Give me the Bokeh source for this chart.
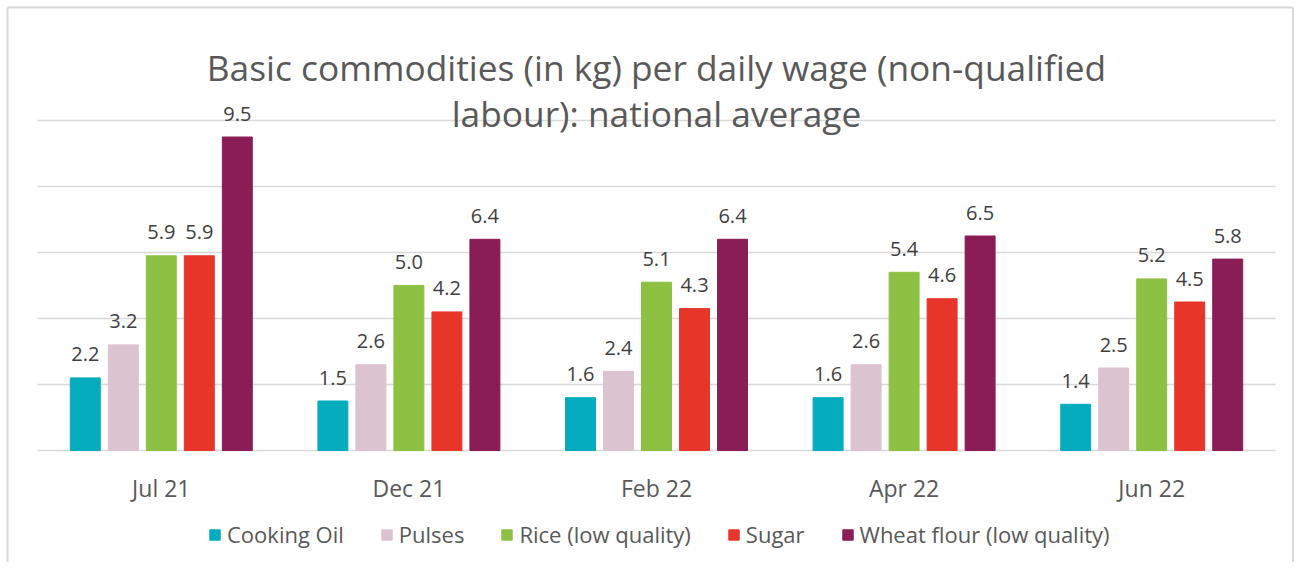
from bokeh.plotting import figure
from bokeh.models import ColumnDataSource, LabelSet, Label, Legend, LegendItem
from bokeh.core.properties import value
from bokeh.embed import file_html
from bokeh.resources import INLINE

# ---- data ----
periods = ["Jul 21", "Dec 21", "Feb 22", "Apr 22", "Jun 22"]
series_names = ["Cooking Oil", "Pulses", "Rice (low quality)", "Sugar", "Wheat flour (low quality)"]
cooking_oil = [2.2, 1.5, 1.6, 1.6, 1.4]
pulses = [3.2, 2.6, 2.4, 2.6, 2.5]
rice = [5.9, 5.0, 5.1, 5.4, 5.2]
sugar = [5.9, 4.2, 4.3, 4.6, 4.5]
wheat_flour = [9.5, 6.4, 6.4, 6.5, 5.8]
grid_values = [0, 2, 4, 6, 8, 10]
colors = ["#04ACBE", "#DCC3D0", "#8DC043", "#E8352A", "#8A1D56"]

FONT = "Open Sans"
TEXT_GREY = "#595959"
series_values = [cooking_oil, pulses, rice, sugar, wheat_flour]

# layout helpers: canvas pixel -> data coordinate (frame covers the whole canvas)
PX_PER_CAT = 247.6
PX_PER_UNIT = 33.0
def X(px):
    return (px - 37) / PX_PER_CAT
def Y(py):
    return (450 - py) / PX_PER_UNIT

W, H = 1294, 562
p = figure(width=W, height=H, output_backend="svg", toolbar_location=None,
           x_range=(X(0), X(W)), y_range=(Y(H), Y(0)),
           x_axis_location=None, y_axis_location=None, min_border=0)
p.outline_line_color = None
p.background_fill_color = "white"
p.border_fill_color = "white"
p.xgrid.visible = False
p.ygrid.visible = False

# outer border (left, top, right)
xl, xr = X(7), X(W - 1.5)
yb, yt = Y(H), Y(7)
p.segment(x0=[xl, xl, xr], y0=[yb, yt, yb], x1=[xl, xr, xr], y1=[yt, yt, yt],
          line_color="#D9D9D9", line_width=2)

# horizontal gridlines across the category span
n = len(periods)
p.segment(x0=[0] * len(grid_values), x1=[n] * len(grid_values), y0=grid_values, y1=grid_values,
          line_color="#D9D9D9", line_width=1.5)

step = 0.1535
bar_w = 0.121
items = []
for j, (name, vals, col) in enumerate(zip(series_names, series_values, colors)):
    xs = [i + 0.5 + (j - 2) * step for i in range(n)]
    src = ColumnDataSource(dict(x=xs, top=vals, lab=[f"{v:.1f}" for v in vals]))
    r = p.vbar(x="x", top="top", width=bar_w, bottom=0, source=src,
               fill_color=col, line_color=col)
    items.append(LegendItem(label=name, renderers=[r]))
    p.add_layout(LabelSet(x="x", y="top", text="lab", source=src, text_align="center",
                          text_baseline="alphabetic", y_offset=16.5,
                          text_font=value(FONT), text_font_size="20px", text_color="#404040"))

# category labels
p.text(x=[i + 0.5 for i in range(n)], y=[Y(487.5)] * n, text=periods,
       text_align="center", text_baseline="alphabetic",
       text_font=value(FONT), text_font_size="23px", text_color=TEXT_GREY)

# title
for txt, py in [("Basic commodities (in kg) per daily wage (non-qualified", 66),
                ("labour): national average", 112.5)]:
    p.add_layout(Label(x=X(656), y=Y(py), text=txt, text_align="center", text_baseline="alphabetic",
                       text_font=FONT, text_font_size="35.3px", text_color=TEXT_GREY))

legend = Legend(items=items, orientation="horizontal", location=(208, H - 549),
                glyph_width=13, glyph_height=13, label_standoff=6, spacing=36,
                label_height=26, padding=0, margin=0, border_line_color=None,
                background_fill_alpha=0,
                label_text_font=FONT, label_text_font_size="22px", label_text_color=TEXT_GREY)
p.add_layout(legend, "center")

open("out.html", "w").write(file_html(p, INLINE))
